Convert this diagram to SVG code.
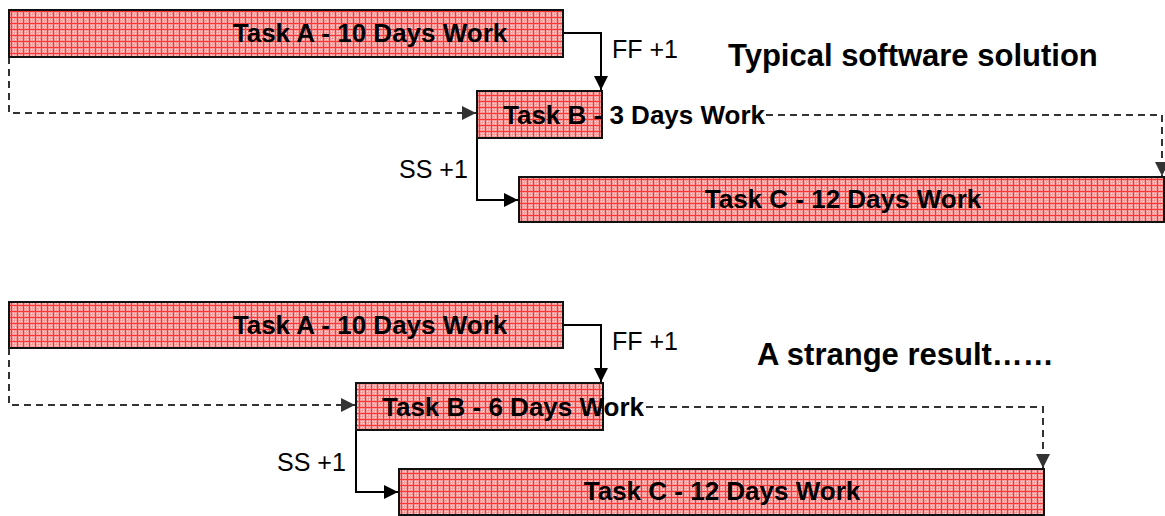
<svg xmlns="http://www.w3.org/2000/svg" width="1165" height="516" viewBox="0 0 1165 516">
<defs>
<pattern id="hatch" width="6" height="6" patternUnits="userSpaceOnUse">
<rect width="6" height="6" fill="#f99a9a"/>
<rect x="1" y="1" width="1" height="1" fill="#ffffff"/>
<rect x="3" y="3" width="1" height="1" fill="#ffffff"/>
<rect x="3" y="1" width="1" height="1" fill="#ffd0d0"/>
<rect x="1" y="3" width="1" height="1" fill="#ffd0d0"/>
<rect x="5" y="0" width="1" height="6" fill="#ff3636"/>
<rect x="0" y="5" width="6" height="1" fill="#ff3636"/>
</pattern>
<marker id="arr" viewBox="0 0 10 10" refX="10" refY="5" markerWidth="14" markerHeight="14" markerUnits="userSpaceOnUse" orient="auto">
<path d="M0,0 L10,5 L0,10 z" fill="#000"/>
</marker>
<marker id="arrd" viewBox="0 0 10 10" refX="10" refY="5" markerWidth="14" markerHeight="14" markerUnits="userSpaceOnUse" orient="auto">
<path d="M0,0 L10,5 L0,10 z" fill="#333"/>
</marker>
</defs>
<style>
.task{fill:url(#hatch);stroke:#111;stroke-width:2}
.lbl{font-family:"Liberation Sans",Arial,sans-serif;font-weight:bold;font-size:26px;fill:#000;text-anchor:middle;dominant-baseline:central}
.rel{font-family:"Liberation Sans",Arial,sans-serif;font-size:25px;fill:#000}
.title{font-family:"Liberation Sans",Arial,sans-serif;font-weight:bold;font-size:31px;fill:#000}
.solid{fill:none;stroke:#000;stroke-width:2;marker-end:url(#arr)}
.dash{fill:none;stroke:#333;stroke-width:2;stroke-dasharray:7,5;marker-end:url(#arrd)}
</style>
<rect width="1165" height="516" fill="#fff"/>
<g id="connectors">
<path class="solid" d="M563,33 H601 V90"/>
<path class="dash" d="M9,57 V113 H476"/>
<path class="dash" d="M766,115 H1162 V176"/>
<path class="solid" d="M477,138 V200 H518"/>
<path class="solid" d="M563,325 H601 V382"/>
<path class="dash" d="M9,348 V405 H355"/>
<path class="dash" d="M646,407 H1043 V468"/>
<path class="solid" d="M356,430 V492 H398"/>
</g>
<g id="taskA1"><rect class="task" x="9" y="10" width="554" height="47"/><text class="lbl" x="370" y="33">Task A - 10 Days Work</text></g>
<g id="taskB1"><rect class="task" x="477" y="91" width="125" height="47"/><text class="lbl" x="634" y="115">Task B - 3 Days Work</text></g>
<g id="taskC1"><rect class="task" x="519" y="177" width="645" height="45"/><text class="lbl" x="843" y="199">Task C - 12 Days Work</text></g>
<g id="taskA2"><rect class="task" x="9" y="302" width="554" height="46"/><text class="lbl" x="370" y="325">Task A - 10 Days Work</text></g>
<g id="taskB2"><rect class="task" x="356" y="383" width="247" height="47"/><text class="lbl" x="513" y="407">Task B - 6 Days Work</text></g>
<g id="taskC2"><rect class="task" x="399" y="469" width="645" height="46"/><text class="lbl" x="722" y="491">Task C - 12 Days Work</text></g>
<text class="rel" x="612" y="58">FF +1</text>
<text class="rel" x="399" y="178">SS +1</text>
<text class="rel" x="612" y="350">FF +1</text>
<text class="rel" x="277" y="471">SS +1</text>
<text class="title" x="728" y="66">Typical software solution</text>
<text class="title" x="757" y="365">A strange result……</text>
</svg>
